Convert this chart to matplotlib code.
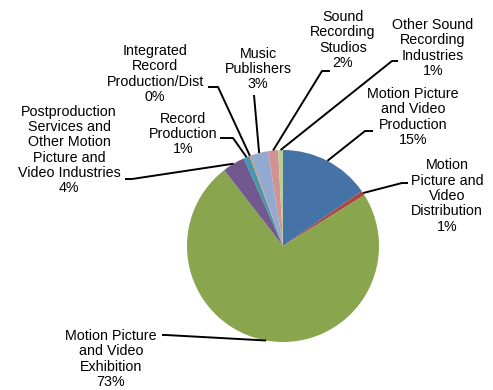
import numpy as np
import matplotlib.pyplot as plt

plt.rcParams['font.family'] = ['Liberation Sans', 'DejaVu Sans']

categories = [
    "Motion Picture\nand Video\nProduction",
    "Motion\nPicture and\nVideo\nDistribution",
    "Motion Picture\nand Video\nExhibition",
    "Postproduction\nServices and\nOther Motion\nPicture and\nVideo Industries",
    "Record\nProduction",
    "Integrated\nRecord\nProduction/Dist",
    "Music\nPublishers",
    "Sound\nRecording\nStudios",
    "Other Sound\nRecording\nIndustries",
]
shares = [15.3, 0.8, 73.4, 3.8, 1.0, 0.2, 3.0, 1.7, 0.8]
colors = ["#4572A7", "#AA4643", "#89A54E", "#71588F", "#4198AF",
          "#DB843D", "#93A9CF", "#D19392", "#B9CD96"]

W, H = 493, 390
# label centre, line anchor at label, elbow (pixel coords, y down)
label_pos = [(413, 117), (447, 196), (111, 359), (69, 150), (183, 134),
             (155, 74), (258, 69), (343, 40), (433, 48)]
anchors = [(373, 131), (408, 183), (162, 335), (125, 179), (220, 138),
           (208, 87), (254, 95), (330, 71), (398, 61)]
elbows = [(365, 131), (402, 183), (166, 335), (132, 179), (233, 138),
          (218, 87), (254, 95), (322, 71), (392, 61)]

fig = plt.figure(figsize=(W / 100, H / 100), dpi=100)
ax = fig.add_axes([0, 0, 1, 1])

cx, cy, r = 283, H - 246, 96
wedges, _ = ax.pie(shares, colors=colors, startangle=90, counterclock=False,
                   center=(cx, cy), radius=r, frame=True,
                   wedgeprops=dict(linewidth=0))
ax.set_xlim(0, W)
ax.set_ylim(0, H)
ax.axis("off")

total = sum(shares)
for w, cat, val, lp, a, e in zip(wedges, categories, shares, label_pos, anchors, elbows):
    mid = np.deg2rad((w.theta1 + w.theta2) / 2)
    px, py = cx + r * np.cos(mid), cy + r * np.sin(mid)
    ax.plot([a[0], e[0], px], [H - a[1], H - e[1], py], color="black", lw=1.4,
            solid_capstyle="butt")
    pct = f"{round(val / total * 100):.0f}%"
    ax.text(lp[0], H - lp[1], f"{cat}\n{pct}", ha="center", va="center",
            fontsize=10.3, linespacing=1.12, color="black")

fig.savefig("out.png", dpi=100, facecolor="white")
